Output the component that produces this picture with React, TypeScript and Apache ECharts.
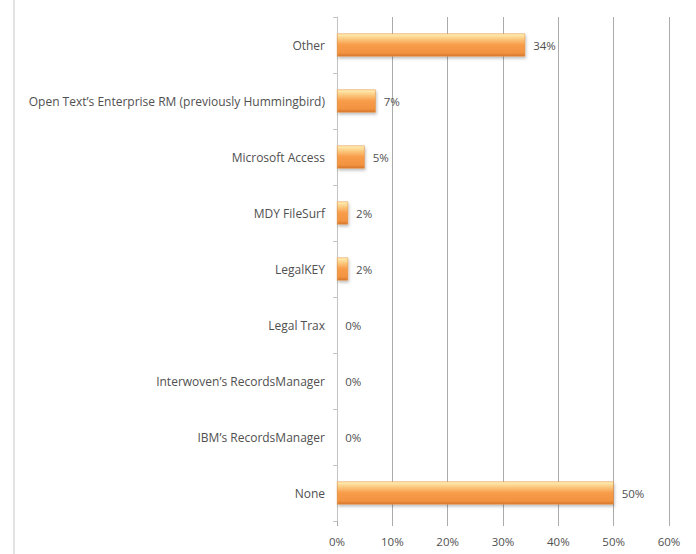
import React, { useEffect, useRef } from "react";
import * as echarts from "echarts";

const categories = [
  "Other",
  "Open Text’s Enterprise RM (previously Hummingbird)",
  "Microsoft Access",
  "MDY FileSurf",
  "LegalKEY",
  "Legal Trax",
  "Interwoven’s RecordsManager",
  "IBM’s RecordsManager",
  "None",
];
const values = [34, 7, 5, 2, 2, 0, 0, 0, 50];
const xTicks = { min: 0, max: 60, interval: 10 };

export default function App() {
  const ref = useRef<HTMLDivElement>(null);
  useEffect(() => {
    if (!ref.current) return;
    const chart = echarts.init(ref.current, null, { renderer: "svg" });
    const font = "'Open Sans', Calibri, sans-serif";
    chart.setOption({
      animation: false,
      backgroundColor: "#ffffff",
      grid: { left: 337, right: 27, top: 17, bottom: 33, containLabel: false },
      xAxis: {
        type: "value",
        min: xTicks.min,
        max: xTicks.max,
        interval: xTicks.interval,
        axisLine: { show: false },
        axisTick: { show: true, length: 5, lineStyle: { color: "#ababab" } },
        splitLine: { show: true, lineStyle: { color: "#ababab", width: 1 } },
        axisLabel: {
          formatter: (v: number) => v + "%",
          color: "#505050",
          fontSize: 11.5,
          fontFamily: font,
          margin: 14,
        },
      },
      yAxis: {
        type: "category",
        data: categories,
        inverse: true,
        axisLine: { show: true, lineStyle: { color: "#c4c4c4" } },
        axisTick: { show: true, length: 4, lineStyle: { color: "#c4c4c4" } },
        axisLabel: {
          color: "#505050",
          fontSize: 12,
          fontFamily: font,
          margin: 12,
        },
      },
      series: [
        {
          type: "bar",
          data: values,
          barWidth: 23,
          itemStyle: {
            color: new echarts.graphic.LinearGradient(0, 0, 0, 1, [
              { offset: 0, color: "#fff1b8" },
              { offset: 0.25, color: "#fbc67a" },
              { offset: 0.5, color: "#f89c4a" },
              { offset: 0.85, color: "#f29340" },
              { offset: 1, color: "#d4772a" },
            ]),
            borderColor: "#e38b3c",
            borderWidth: 0.5,
            shadowColor: "rgba(0,0,0,0.25)",
            shadowBlur: 3,
            shadowOffsetX: 1,
            shadowOffsetY: 2,
          },
          label: {
            show: true,
            position: "right",
            distance: 8,
            formatter: (p: any) => p.value + "%",
            color: "#505050",
            fontSize: 11.5,
            fontFamily: font,
          },
        },
      ],
      graphic: [
        {
          type: "line",
          shape: { x1: 14, y1: 0, x2: 14, y2: 554 },
          style: { stroke: "#c8c8c8", lineWidth: 1 },
        },
      ],
    });
    return () => chart.dispose();
  }, []);
  return <div ref={ref} style={{ width: 696, height: 554, position: "absolute", left: 0, top: 0 }} />;
}
